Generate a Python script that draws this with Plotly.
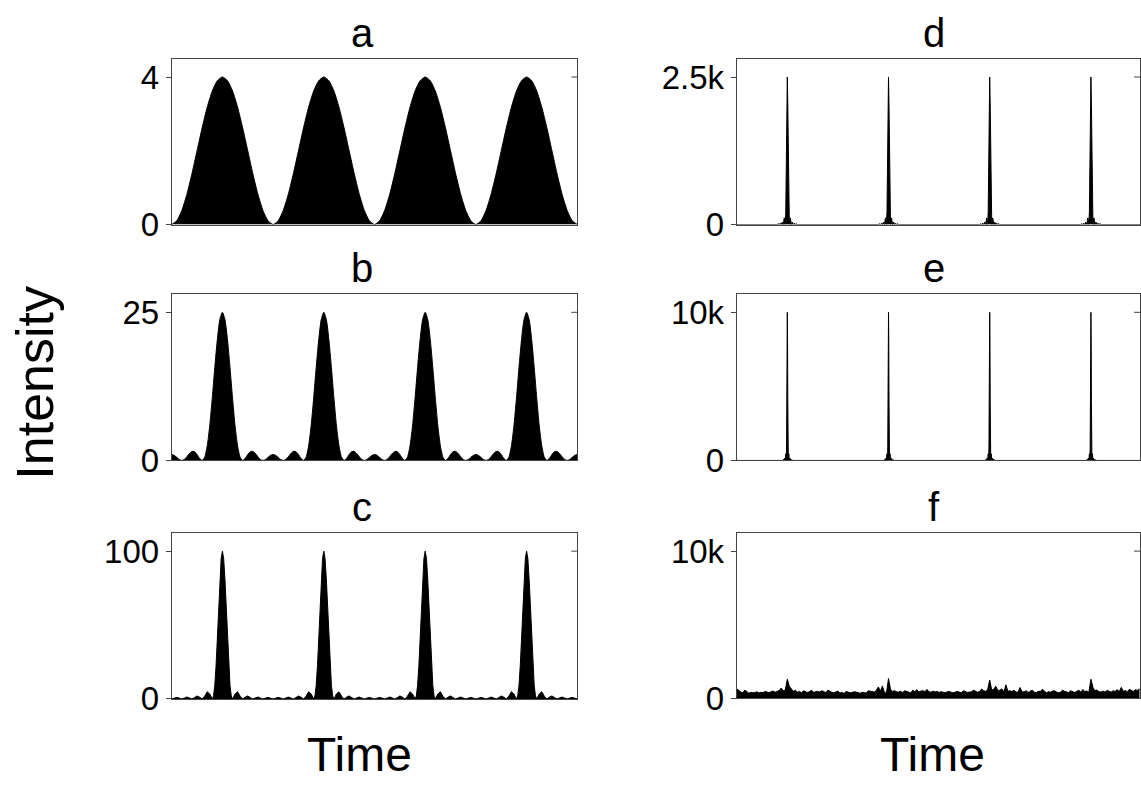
import plotly.graph_objects as go

# ---------------- data ----------------
peak_times = [0.5, 1.5, 2.5, 3.5]          # pulse centres (in periods)

# half-period profiles: offset from a pulse centre -> intensity
a_offsets = [0.0, 0.05, 0.10, 0.15, 0.20, 0.25, 0.30, 0.35, 0.40, 0.45, 0.50]
a_values  = [4.0, 3.90, 3.62, 3.18, 2.62, 2.00, 1.38, 0.82, 0.38, 0.10, 0.0]

b_offsets = [0.0, 0.025, 0.05, 0.075, 0.10, 0.125, 0.15, 0.175, 0.20, 0.225, 0.25,
             0.275, 0.30, 0.325, 0.35, 0.375, 0.40, 0.425, 0.45, 0.475, 0.50]
b_values  = [25.0, 23.8, 20.4, 15.7, 10.5, 5.83, 2.43, 0.54, 0.0, 0.35, 1.0,
             1.48, 1.53, 1.17, 0.63, 0.17, 0.0, 0.16, 0.51, 0.86, 1.0]

c_offsets = [0.0, 0.0125, 0.025, 0.0375, 0.05, 0.0625, 0.075, 0.0875, 0.10, 0.125, 0.15,
             0.175, 0.20, 0.225, 0.25, 0.275, 0.30, 0.325, 0.35, 0.375, 0.40, 0.425,
             0.45, 0.475, 0.50]
c_values  = [100.0, 95.0, 81.2, 61.8, 40.9, 22.4, 9.2, 2.0, 0.0, 3.4, 4.85,
             1.83, 0.0, 1.19, 2.0, 0.87, 0.0, 0.69, 1.26, 0.59, 0.0, 0.53,
             1.03, 0.50, 0.0]

d_offsets = [0.0, 0.005, 0.01, 0.015, 0.02, 0.03, 0.04, 0.05, 0.06, 0.07, 0.08,
             0.09, 0.10, 0.50]
d_values  = [2500, 2027, 1013, 225, 0, 113, 0, 41, 0, 21, 0, 13, 0, 0]

e_offsets = [0.0, 0.0025, 0.005, 0.0075, 0.01, 0.015, 0.02, 0.025, 0.03, 0.035,
             0.04, 0.045, 0.05, 0.50]
e_values  = [10000, 8106, 4053, 901, 0, 451, 0, 162, 0, 83, 0, 50, 0, 0]

f_step = 0.02
f_values = [
    650, 520, 430, 380, 560, 470, 350, 420, 380, 400, 450, 370, 420, 390, 470, 430, 380, 460, 500, 420,
    480, 540, 700, 520, 560, 1300, 820, 620, 480, 560, 430, 470, 380, 520, 430, 400, 470, 550, 420, 430,
    480, 430, 520, 470, 380, 560, 460, 420, 380, 440, 500, 360, 420, 330, 470, 430, 380, 400, 450, 430,
    380, 350, 420, 400, 360, 520, 480, 420, 430, 560, 780, 490, 850, 400, 360, 1350, 620, 480, 520, 450,
    430, 480, 400, 520, 470, 430, 380, 560, 450, 600, 430, 500, 520, 460, 610, 450, 420, 500, 430, 480,
    400, 460, 420, 380, 450, 470, 420, 380, 430, 470, 430, 380, 520, 460, 410, 430, 450, 560, 470, 420,
    470, 640, 520, 480, 600, 1250, 560, 620, 820, 540, 560, 650, 440, 920, 480, 520, 470, 560, 430, 420,
    740, 430, 460, 520, 400, 480, 560, 430, 400, 480, 470, 620, 470, 380, 460, 420, 500, 520, 430, 380,
    430, 560, 480, 420, 400, 520, 470, 400, 480, 560, 430, 600, 470, 500, 420, 1300, 750, 520, 580, 450,
    430, 500, 420, 560, 480, 430, 520, 470, 600, 460, 750, 480, 530, 460, 620, 520, 470, 600, 540, 650,
]

panel_labels = ["a", "b", "c", "d", "e", "f"]
tick_tops    = [4, 25, 100, 2500, 10000, 10000]
tick_texts   = ["4", "25", "100", "2.5k", "10k", "10k"]
x_label = "Time"
y_label = "Intensity"

# ---------------- build traces ----------------
def tile(offsets, values, centres):
    half_x = [-o for o in offsets[::-1]] + offsets[1:]
    half_y = values[::-1] + values[1:]
    xs, ys = [], []
    for i, c in enumerate(centres):
        start = 0 if i == 0 else 1
        xs += [c + dx for dx in half_x[start:]]
        ys += half_y[start:]
    return xs, ys

series = [
    tile(a_offsets, a_values, peak_times),
    tile(b_offsets, b_values, peak_times),
    tile(c_offsets, c_values, peak_times),
    tile(d_offsets, d_values, peak_times),
    tile(e_offsets, e_values, peak_times),
    ([i * f_step for i in range(len(f_values))], f_values),
]
shapes_line = ["spline", "spline", "linear", "linear", "linear", "linear"]

W, H = 1141, 796
FONT = "Liberation Sans, Arial, Helvetica, sans-serif"
AXIS_COLOR = "#444"

# pixel layout of the six boxes (left, right, top, bottom)
boxes = [
    (171.7, 577.3, 60.0, 230.0),
    (171.7, 577.3, 301.0, 471.7),
    (171.7, 577.3, 545.7, 716.0),
    (736.7, 1140.0, 60.0, 230.0),
    (736.7, 1140.0, 301.0, 471.7),
    (736.7, 1140.0, 545.7, 715.5),
]
x_ranges = [[0, 4.0]] * 3 + [[0, 3.985]] * 3

fig = go.Figure()
layout = dict(
    width=W, height=H,
    margin=dict(l=0, r=0, t=0, b=0),
    paper_bgcolor="white", plot_bgcolor="white",
    showlegend=False,
    font=dict(family=FONT, color="black"),
)
annotations = []
shapes = []
for i in range(6):
    k = "" if i == 0 else str(i + 1)
    xs, ys = series[i]
    fig.add_trace(go.Scatter(
        x=xs, y=ys, mode="lines",
        line=dict(color="black", width=1, shape=shapes_line[i], smoothing=0.6),
        fill="tozeroy", fillcolor="black",
        xaxis="x" + k, yaxis="y" + k, hoverinfo="skip",
    ))
    l, r, t, b = boxes[i]
    top = tick_tops[i]
    layout["xaxis" + k] = dict(
        domain=[l / W, r / W], range=x_ranges[i], anchor="y" + k,
        showticklabels=False, ticks="", showgrid=False, zeroline=False,
        showline=True, linecolor=AXIS_COLOR, linewidth=1, mirror=True,
    )
    layout["yaxis" + k] = dict(
        domain=[(H - b) / H, (H - t) / H], range=[0, top * 1.125], anchor="x" + k,
        tickvals=[0, top], ticktext=["0", tick_texts[i]],
        ticks="outside", ticklen=5, tickcolor=AXIS_COLOR, tickwidth=1,
        tickfont=dict(family=FONT, size=33, color="black"),
        showgrid=False, zeroline=False,
        showline=True, linecolor=AXIS_COLOR, linewidth=1, mirror=True,
    )
    # mirrored tick on the right side, drawn inside the box
    xd = ("x" if i == 0 else "x" + k) + " domain"
    shapes.append(dict(type="line", xref=xd, yref="y" + k,
                       x0=1 - 6 / (r - l), x1=1, y0=top, y1=top,
                       line=dict(color=AXIS_COLOR, width=1)))
    cx = 362 if i < 3 else 934
    annotations.append(dict(
        text=panel_labels[i], xref="paper", yref="paper",
        x=cx / W, y=(H - (t - 26)) / H, xanchor="center", yanchor="middle",
        showarrow=False, font=dict(family=FONT, size=40, color="black"),
    ))

annotations.append(dict(text=x_label, xref="paper", yref="paper", x=359 / W, y=(H - 773) / H,
                        xanchor="center", yanchor="middle", showarrow=False,
                        font=dict(family=FONT, size=48, color="black")))
annotations.append(dict(text=x_label, xref="paper", yref="paper", x=932 / W, y=(H - 773) / H,
                        xanchor="center", yanchor="middle", showarrow=False,
                        font=dict(family=FONT, size=48, color="black")))
annotations.append(dict(text=y_label, xref="paper", yref="paper", x=35 / W, y=(H - 392) / H,
                        xanchor="center", yanchor="middle", showarrow=False, textangle=-90,
                        font=dict(family=FONT, size=52, color="black")))
layout["annotations"] = annotations
layout["shapes"] = shapes
fig.update_layout(**layout)
fig.write_html(
    "out.html", config={"displayModeBar": False},
    post_script="document.documentElement.style.margin='0';document.body.style.margin='0';"
                "document.body.style.padding='0';document.body.style.overflow='hidden';",
)
